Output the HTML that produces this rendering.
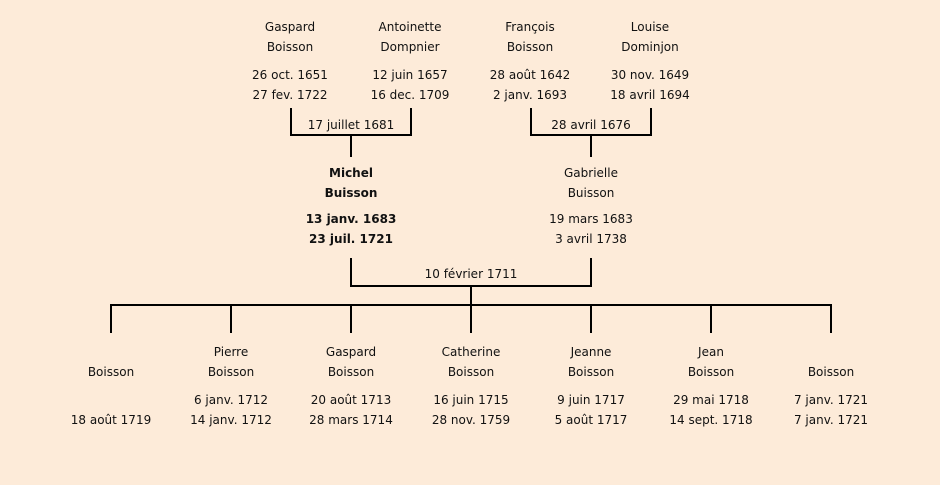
<!DOCTYPE html><html><head><style>
body{margin:0;width:940px;height:485px;background:#fdebd9;position:relative;font-family:"DejaVu Sans","Liberation Sans",sans-serif;font-size:12px;color:#111;overflow:hidden}
.t{position:absolute;width:140px;margin-left:-70px;text-align:center;line-height:20px}
.b{font-weight:bold}
.l{position:absolute;background:#000}
</style></head><body>
<div class="t" style="left:290px;top:17px">Gaspard<br>Boisson</div>
<div class="t" style="left:410px;top:17px">Antoinette<br>Dompnier</div>
<div class="t" style="left:530px;top:17px">François<br>Boisson</div>
<div class="t" style="left:650px;top:17px">Louise<br>Dominjon</div>
<div class="t" style="left:290px;top:65px">26 oct. 1651<br>27 fev. 1722</div>
<div class="t" style="left:410px;top:65px">12 juin 1657<br>16 dec. 1709</div>
<div class="t" style="left:530px;top:65px">28 août 1642<br>2 janv. 1693</div>
<div class="t" style="left:650px;top:65px">30 nov. 1649<br>18 avril 1694</div>
<div class="l" style="left:290px;top:108px;width:2px;height:28px"></div>
<div class="l" style="left:410px;top:108px;width:2px;height:28px"></div>
<div class="l" style="left:290px;top:134px;width:122px;height:2px"></div>
<div class="l" style="left:350px;top:134px;width:2px;height:23px"></div>
<div class="t" style="left:351px;top:115px">17 juillet 1681</div>
<div class="l" style="left:530px;top:108px;width:2px;height:28px"></div>
<div class="l" style="left:650px;top:108px;width:2px;height:28px"></div>
<div class="l" style="left:530px;top:134px;width:122px;height:2px"></div>
<div class="l" style="left:590px;top:134px;width:2px;height:23px"></div>
<div class="t" style="left:591px;top:115px">28 avril 1676</div>
<div class="t b" style="left:351px;top:163px">Michel<br>Buisson</div>
<div class="t b" style="left:351px;top:209px">13 janv. 1683<br>23 juil. 1721</div>
<div class="t" style="left:591px;top:163px">Gabrielle<br>Buisson</div>
<div class="t" style="left:591px;top:209px">19 mars 1683<br>3 avril 1738</div>
<div class="l" style="left:350px;top:258px;width:2px;height:29px"></div>
<div class="l" style="left:590px;top:258px;width:2px;height:29px"></div>
<div class="l" style="left:350px;top:285px;width:242px;height:2px"></div>
<div class="t" style="left:471px;top:264px">10 février 1711</div>
<div class="l" style="left:470px;top:285px;width:2px;height:21px"></div>
<div class="l" style="left:110px;top:304px;width:722px;height:2px"></div>
<div class="l" style="left:110px;top:304px;width:2px;height:29px"></div>
<div class="l" style="left:230px;top:304px;width:2px;height:29px"></div>
<div class="l" style="left:350px;top:304px;width:2px;height:29px"></div>
<div class="l" style="left:470px;top:304px;width:2px;height:29px"></div>
<div class="l" style="left:590px;top:304px;width:2px;height:29px"></div>
<div class="l" style="left:710px;top:304px;width:2px;height:29px"></div>
<div class="l" style="left:830px;top:304px;width:2px;height:29px"></div>
<div class="t" style="left:111px;top:342px"><br>Boisson</div>
<div class="t" style="left:231px;top:342px">Pierre<br>Boisson</div>
<div class="t" style="left:351px;top:342px">Gaspard<br>Boisson</div>
<div class="t" style="left:471px;top:342px">Catherine<br>Boisson</div>
<div class="t" style="left:591px;top:342px">Jeanne<br>Boisson</div>
<div class="t" style="left:711px;top:342px">Jean<br>Boisson</div>
<div class="t" style="left:831px;top:342px"><br>Boisson</div>
<div class="t" style="left:111px;top:390px"><br>18 août 1719</div>
<div class="t" style="left:231px;top:390px">6 janv. 1712<br>14 janv. 1712</div>
<div class="t" style="left:351px;top:390px">20 août 1713<br>28 mars 1714</div>
<div class="t" style="left:471px;top:390px">16 juin 1715<br>28 nov. 1759</div>
<div class="t" style="left:591px;top:390px">9 juin 1717<br>5 août 1717</div>
<div class="t" style="left:711px;top:390px">29 mai 1718<br>14 sept. 1718</div>
<div class="t" style="left:831px;top:390px">7 janv. 1721<br>7 janv. 1721</div>
</body></html>
